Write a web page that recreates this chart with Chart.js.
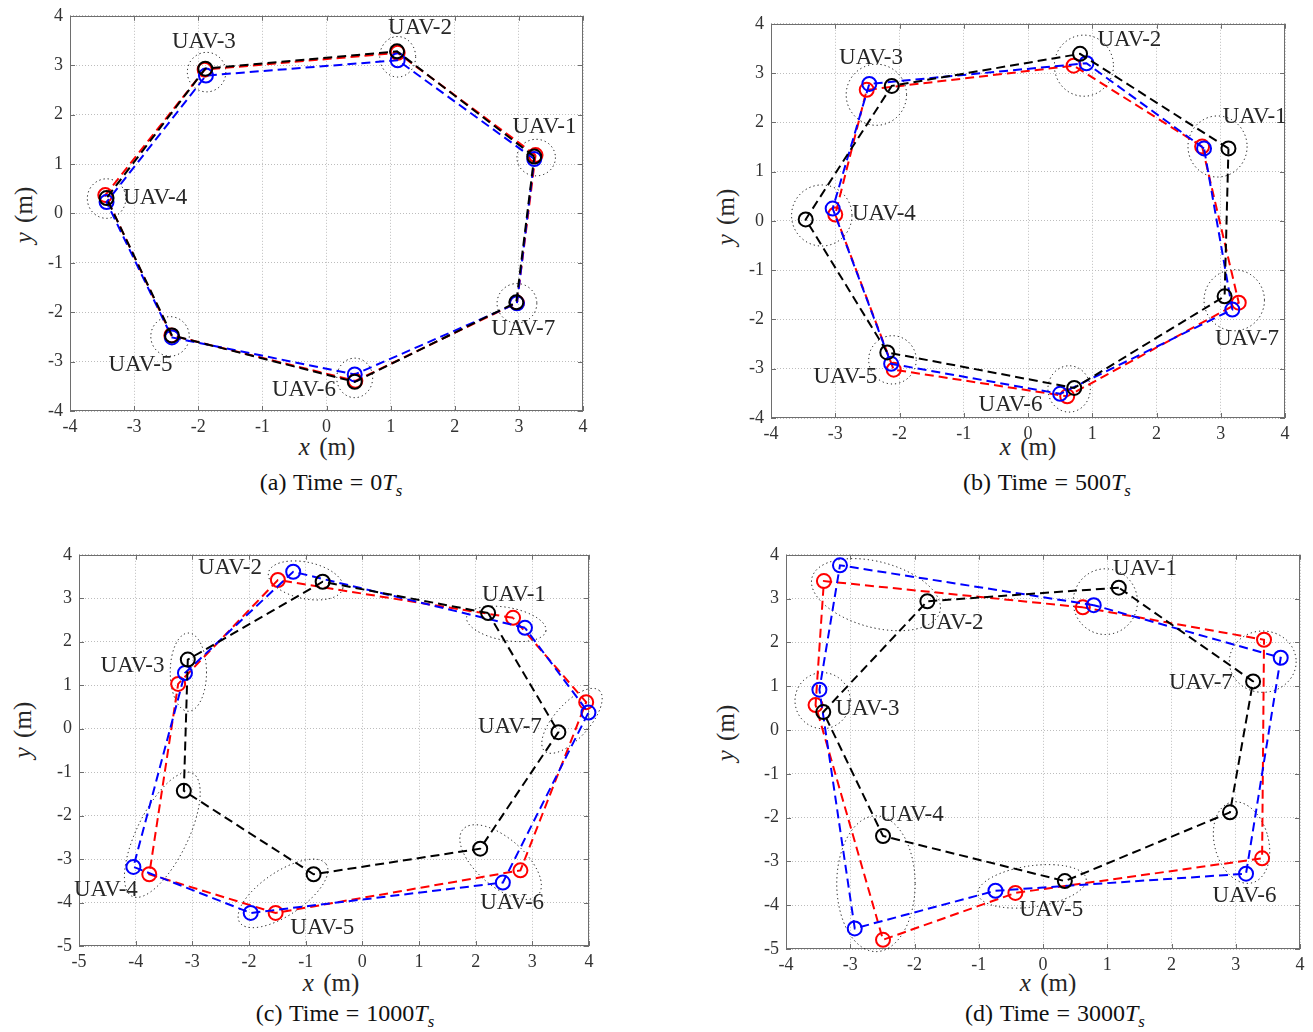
<!DOCTYPE html>
<html>
<head>
<meta charset="utf-8">
<script src="https://cdn.jsdelivr.net/npm/chart.js@4.4.1/dist/chart.umd.min.js"></script>
<style>
  body { margin: 0; background: #fff; width: 1313px; height: 1032px; position: relative; overflow: hidden;
         font-family: "Liberation Serif", "DejaVu Serif", serif; color: #262626; }
  canvas.panel { position: absolute; }
  .txt { position: absolute; transform: translate(-50%, -50%); white-space: nowrap; line-height: 1; }
  .axlab { font-size: 25px; word-spacing: 3px; }
  .ylab { transform: translate(-50%, -50%) rotate(-90deg); }
  .cap { font-size: 24px; color: #111; word-spacing: 1px; }
  sub { font-size: 70%; vertical-align: -0.35em; line-height: 0; }
</style>
</head>
<body>

<div class="txt axlab" style="left:327px;top:446px"><i>x</i> (m)</div>
<div class="txt axlab ylab" style="left:23px;top:215px"><i>y</i> (m)</div>
<div class="txt cap" style="left:331px;top:482px">(a) Time = 0<i>T<sub>s</sub></i></div>

<div class="txt axlab" style="left:1028px;top:446px"><i>x</i> (m)</div>
<div class="txt axlab ylab" style="left:725px;top:217px"><i>y</i> (m)</div>
<div class="txt cap" style="left:1047px;top:482px">(b) Time = 500<i>T<sub>s</sub></i></div>

<div class="txt axlab" style="left:331px;top:982px"><i>x</i> (m)</div>
<div class="txt axlab ylab" style="left:22px;top:730px"><i>y</i> (m)</div>
<div class="txt cap" style="left:345px;top:1013px">(c) Time = 1000<i>T<sub>s</sub></i></div>

<div class="txt axlab" style="left:1048px;top:982px"><i>x</i> (m)</div>
<div class="txt axlab ylab" style="left:725px;top:733px"><i>y</i> (m)</div>
<div class="txt cap" style="left:1055px;top:1013px">(d) Time = 3000<i>T<sub>s</sub></i></div>

<script>
// UAV names, same order in every panel (polygon goes 1 -> 7 -> back to 1)
const uavNames = ['UAV-1', 'UAV-2', 'UAV-3', 'UAV-4', 'UAV-5', 'UAV-6', 'UAV-7'];

// positions [x, y] in metres
// (a) time = 0 Ts
const blackA = [[3.24, 1.15], [1.10, 3.28], [-1.89, 2.93], [-3.43, 0.31], [-2.41, -2.47], [0.44, -3.41], [2.96, -1.80]];
const redA   = [[3.26, 1.18], [1.11, 3.25], [-1.90, 2.91], [-3.45, 0.37], [-2.42, -2.47], [0.45, -3.39], [2.97, -1.81]];
const blueA  = [[3.24, 1.10], [1.11, 3.10], [-1.88, 2.79], [-3.43, 0.23], [-2.41, -2.51], [0.44, -3.26], [2.97, -1.82]];
// (b) time = 500 Ts
const blackB = [[3.12, 1.47], [0.81, 3.39], [-2.12, 2.74], [-3.46, 0.03], [-2.19, -2.67], [0.72, -3.39], [3.06, -1.53]];
const redB   = [[2.71, 1.51], [0.71, 3.15], [-2.51, 2.66], [-3.00, 0.13], [-2.09, -3.02], [0.61, -3.56], [3.28, -1.66]];
const blueB  = [[2.74, 1.47], [0.91, 3.20], [-2.47, 2.78], [-3.04, 0.25], [-2.13, -2.90], [0.50, -3.51], [3.18, -1.80]];
// (c) time = 1000 Ts
const blackC = [[2.22, 2.66], [-0.70, 3.38], [-3.08, 1.59], [-3.15, -1.43], [-0.86, -3.35], [2.08, -2.76], [3.46, -0.08]];
const redC   = [[2.66, 2.55], [-1.49, 3.42], [-3.25, 1.03], [-3.76, -3.35], [-1.53, -4.24], [2.79, -3.26], [3.95, 0.61]];
const blueC  = [[2.87, 2.32], [-1.22, 3.61], [-3.13, 1.28], [-4.04, -3.18], [-1.97, -4.24], [2.48, -3.54], [3.99, 0.37]];
// (d) time = 3000 Ts
const blackD = [[1.18, 3.25], [-1.80, 2.94], [-3.42, 0.41], [-2.49, -2.42], [0.34, -3.45], [2.91, -1.88], [3.27, 1.11]];
const redD   = [[0.62, 2.80], [-3.41, 3.40], [-3.54, 0.57], [-2.49, -4.79], [-0.43, -3.72], [3.41, -2.93], [3.44, 2.06]];
const blueD  = [[0.79, 2.85], [-3.16, 3.76], [-3.48, 0.92], [-2.93, -4.53], [-0.74, -3.67], [3.16, -3.28], [3.70, 1.65]];

// dotted uncertainty ellipses: [cx, cy, half-width (x units), half-height (y units), tilt deg]
const ellA = [[3.27, 1.13, 0.30, 0.37, 0], [1.11, 3.17, 0.28, 0.41, 0], [-1.87, 2.86, 0.30, 0.40, 0], [-3.43, 0.30, 0.30, 0.40, 0],
              [-2.44, -2.49, 0.30, 0.40, 0], [0.44, -3.33, 0.28, 0.40, 0], [2.97, -1.82, 0.31, 0.40, 0]];
const ellB = [[2.95, 1.51, 0.46, 0.62, 0], [0.87, 3.15, 0.46, 0.62, 0], [-2.36, 2.56, 0.47, 0.62, 0], [-3.21, 0.11, 0.47, 0.62, 0],
              [-2.11, -2.82, 0.37, 0.49, 0], [0.64, -3.41, 0.33, 0.47, 0], [3.21, -1.61, 0.47, 0.62, 0]];
const ellC = [[2.54, 2.41, 0.71, 0.38, -10], [-1.00, 3.41, 0.67, 0.42, -12], [-3.07, 1.30, 0.32, 0.90, 0], [-3.53, -2.44, 1.21, 0.59, 64],
              [-1.40, -3.79, 0.92, 0.50, 34], [2.44, -3.07, 0.88, 0.55, -41], [3.70, 0.18, 0.72, 0.40, 48]];
const ellD = [[0.97, 2.93, 0.50, 0.75, 0], [-2.60, 3.09, 1.03, 0.75, -15], [-3.43, 0.67, 0.43, 0.64, 0], [-2.60, -3.51, 0.61, 1.55, 0],
              [-0.17, -3.57, 0.85, 0.47, 8], [3.09, -2.57, 0.42, 0.95, 15], [3.42, 1.56, 0.52, 0.70, 0]];

// where each "UAV-k" label starts (left edge, vertical middle), data units
const labA = [[2.90, 1.76], [0.96, 3.76], [-2.41, 3.48], [-3.17, 0.32], [-3.40, -3.07], [-0.85, -3.58], [2.57, -2.34]];
const labB = [[3.03, 2.11], [1.08, 3.67], [-2.94, 3.31], [-2.74, 0.15], [-3.34, -3.17], [-0.77, -3.74], [2.91, -2.39]];
const labC = [[2.11, 3.08], [-2.90, 3.69], [-4.62, 1.45], [-5.09, -3.71], [-1.27, -4.58], [2.08, -4.01], [2.04, 0.03]];
const labD = [[1.09, 3.68], [-1.92, 2.45], [-3.23, 0.48], [-2.54, -1.94], [-0.37, -4.11], [2.64, -3.80], [1.96, 1.07]];

const FONT = '"Liberation Serif", "DejaVu Serif", serif';
const BOX_COLOR = '#6e6e6e';

const panels = [
  { box: [70, 12, 583, 411], xr: [-4, 4], yr: [-4, 4], black: blackA, red: redA, blue: blueA, ell: ellA, lab: labA },
  { box: [771, 20, 1285, 418], xr: [-4, 4], yr: [-4, 4], black: blackB, red: redB, blue: blueB, ell: ellB, lab: labB },
  { box: [79, 551, 589, 946], xr: [-5, 4], yr: [-5, 4], black: blackC, red: redC, blue: blueC, ell: ellC, lab: labC },
  { box: [786, 551, 1300, 949], xr: [-4, 4], yr: [-5, 4], black: blackD, red: redD, blue: blueD, ell: ellD, lab: labD },
];

const PADL = 60, PADT = 14, PADR = 34, PADB = 40;

function series(pts, color, order) {
  const n = pts.length;
  return {
    data: pts.concat([pts[0]]).map(p => ({ x: p[0], y: p[1] })),
    showLine: true,
    borderColor: color,
    borderWidth: 2,
    borderDash: [9, 5],
    pointRadius: ctx => (ctx.dataIndex === n ? 0 : 7),
    pointBorderColor: color,
    pointBackgroundColor: 'rgba(0,0,0,0)',
    pointBorderWidth: 2,
    clip: false,
    order: order
  };
}

const decor = {
  id: 'decor',
  beforeDatasetsDraw(chart, args, opts) {
    const ctx = chart.ctx, xs = chart.scales.x, ys = chart.scales.y, a = chart.chartArea;
    // box + inward ticks
    ctx.save();
    ctx.strokeStyle = BOX_COLOR;
    ctx.lineWidth = 1;
    ctx.strokeRect(Math.round(a.left) + 0.5, Math.round(a.top) + 0.5, Math.round(a.right - a.left) - 1, Math.round(a.bottom - a.top) - 1);
    ctx.beginPath();
    xs.ticks.forEach(t => {
      const px = Math.round(xs.getPixelForValue(t.value)) + 0.5;
      ctx.moveTo(px, a.bottom); ctx.lineTo(px, a.bottom - 5);
      ctx.moveTo(px, a.top); ctx.lineTo(px, a.top + 5);
    });
    ys.ticks.forEach(t => {
      const py = Math.round(ys.getPixelForValue(t.value)) + 0.5;
      ctx.moveTo(a.left, py); ctx.lineTo(a.left + 5, py);
      ctx.moveTo(a.right, py); ctx.lineTo(a.right - 5, py);
    });
    ctx.stroke();
    // dotted ellipses
    const sx = Math.abs(xs.getPixelForValue(1) - xs.getPixelForValue(0));
    const sy = Math.abs(ys.getPixelForValue(1) - ys.getPixelForValue(0));
    ctx.strokeStyle = '#000';
    ctx.lineWidth = 1;
    ctx.setLineDash([1.2, 3]);
    opts.ell.forEach(e => {
      ctx.beginPath();
      ctx.ellipse(xs.getPixelForValue(e[0]), ys.getPixelForValue(e[1]), e[2] * sx, e[3] * sy, -e[4] * Math.PI / 180, 0, 2 * Math.PI);
      ctx.stroke();
    });
    ctx.restore();
  },
  afterDatasetsDraw(chart, args, opts) {
    const ctx = chart.ctx, xs = chart.scales.x, ys = chart.scales.y;
    ctx.save();
    ctx.font = '23px ' + FONT;
    ctx.fillStyle = '#262626';
    ctx.textAlign = 'left';
    ctx.textBaseline = 'middle';
    opts.lab.forEach((p, i) => ctx.fillText(uavNames[i], xs.getPixelForValue(p[0]), ys.getPixelForValue(p[1])));
    ctx.restore();
  }
};

function axis(range, isX) {
  return {
    type: 'linear',
    min: range[0],
    max: range[1],
    ticks: { stepSize: 1, color: '#333', font: { family: FONT, size: 18 }, padding: isX ? 5 : 7, maxRotation: 0, autoSkip: false },
    grid: { color: '#bdbdbd', lineWidth: 1, drawTicks: false },
    border: { display: false, dash: [1, 2] },
    afterFit(s) { if (isX) s.height = PADB; else s.width = PADL; }
  };
}

panels.forEach(p => {
  const [x1, y1, x2, y2] = p.box;
  const w = x2 - x1 + PADL + PADR, h = y2 - y1 + PADT + PADB;
  const c = document.createElement('canvas');
  c.className = 'panel';
  c.width = w; c.height = h;
  c.style.left = (x1 - PADL) + 'px';
  c.style.top = (y1 - PADT) + 'px';
  c.style.width = w + 'px';
  c.style.height = h + 'px';
  document.body.appendChild(c);

  new Chart(c, {
    type: 'scatter',
    data: {
      datasets: [
        series(p.red, '#ff0000', 3),
        series(p.blue, '#0000ff', 2),
        series(p.black, '#000000', 1)
      ]
    },
    options: {
      responsive: false,
      animation: false,
      devicePixelRatio: 1,
      layout: { padding: { top: PADT, right: PADR, left: 0, bottom: 0 } },
      scales: { x: axis(p.xr, true), y: axis(p.yr, false) },
      plugins: { legend: { display: false }, tooltip: { enabled: false }, decor: { ell: p.ell, lab: p.lab } }
    },
    plugins: [decor]
  });
});
</script>
</body>
</html>
